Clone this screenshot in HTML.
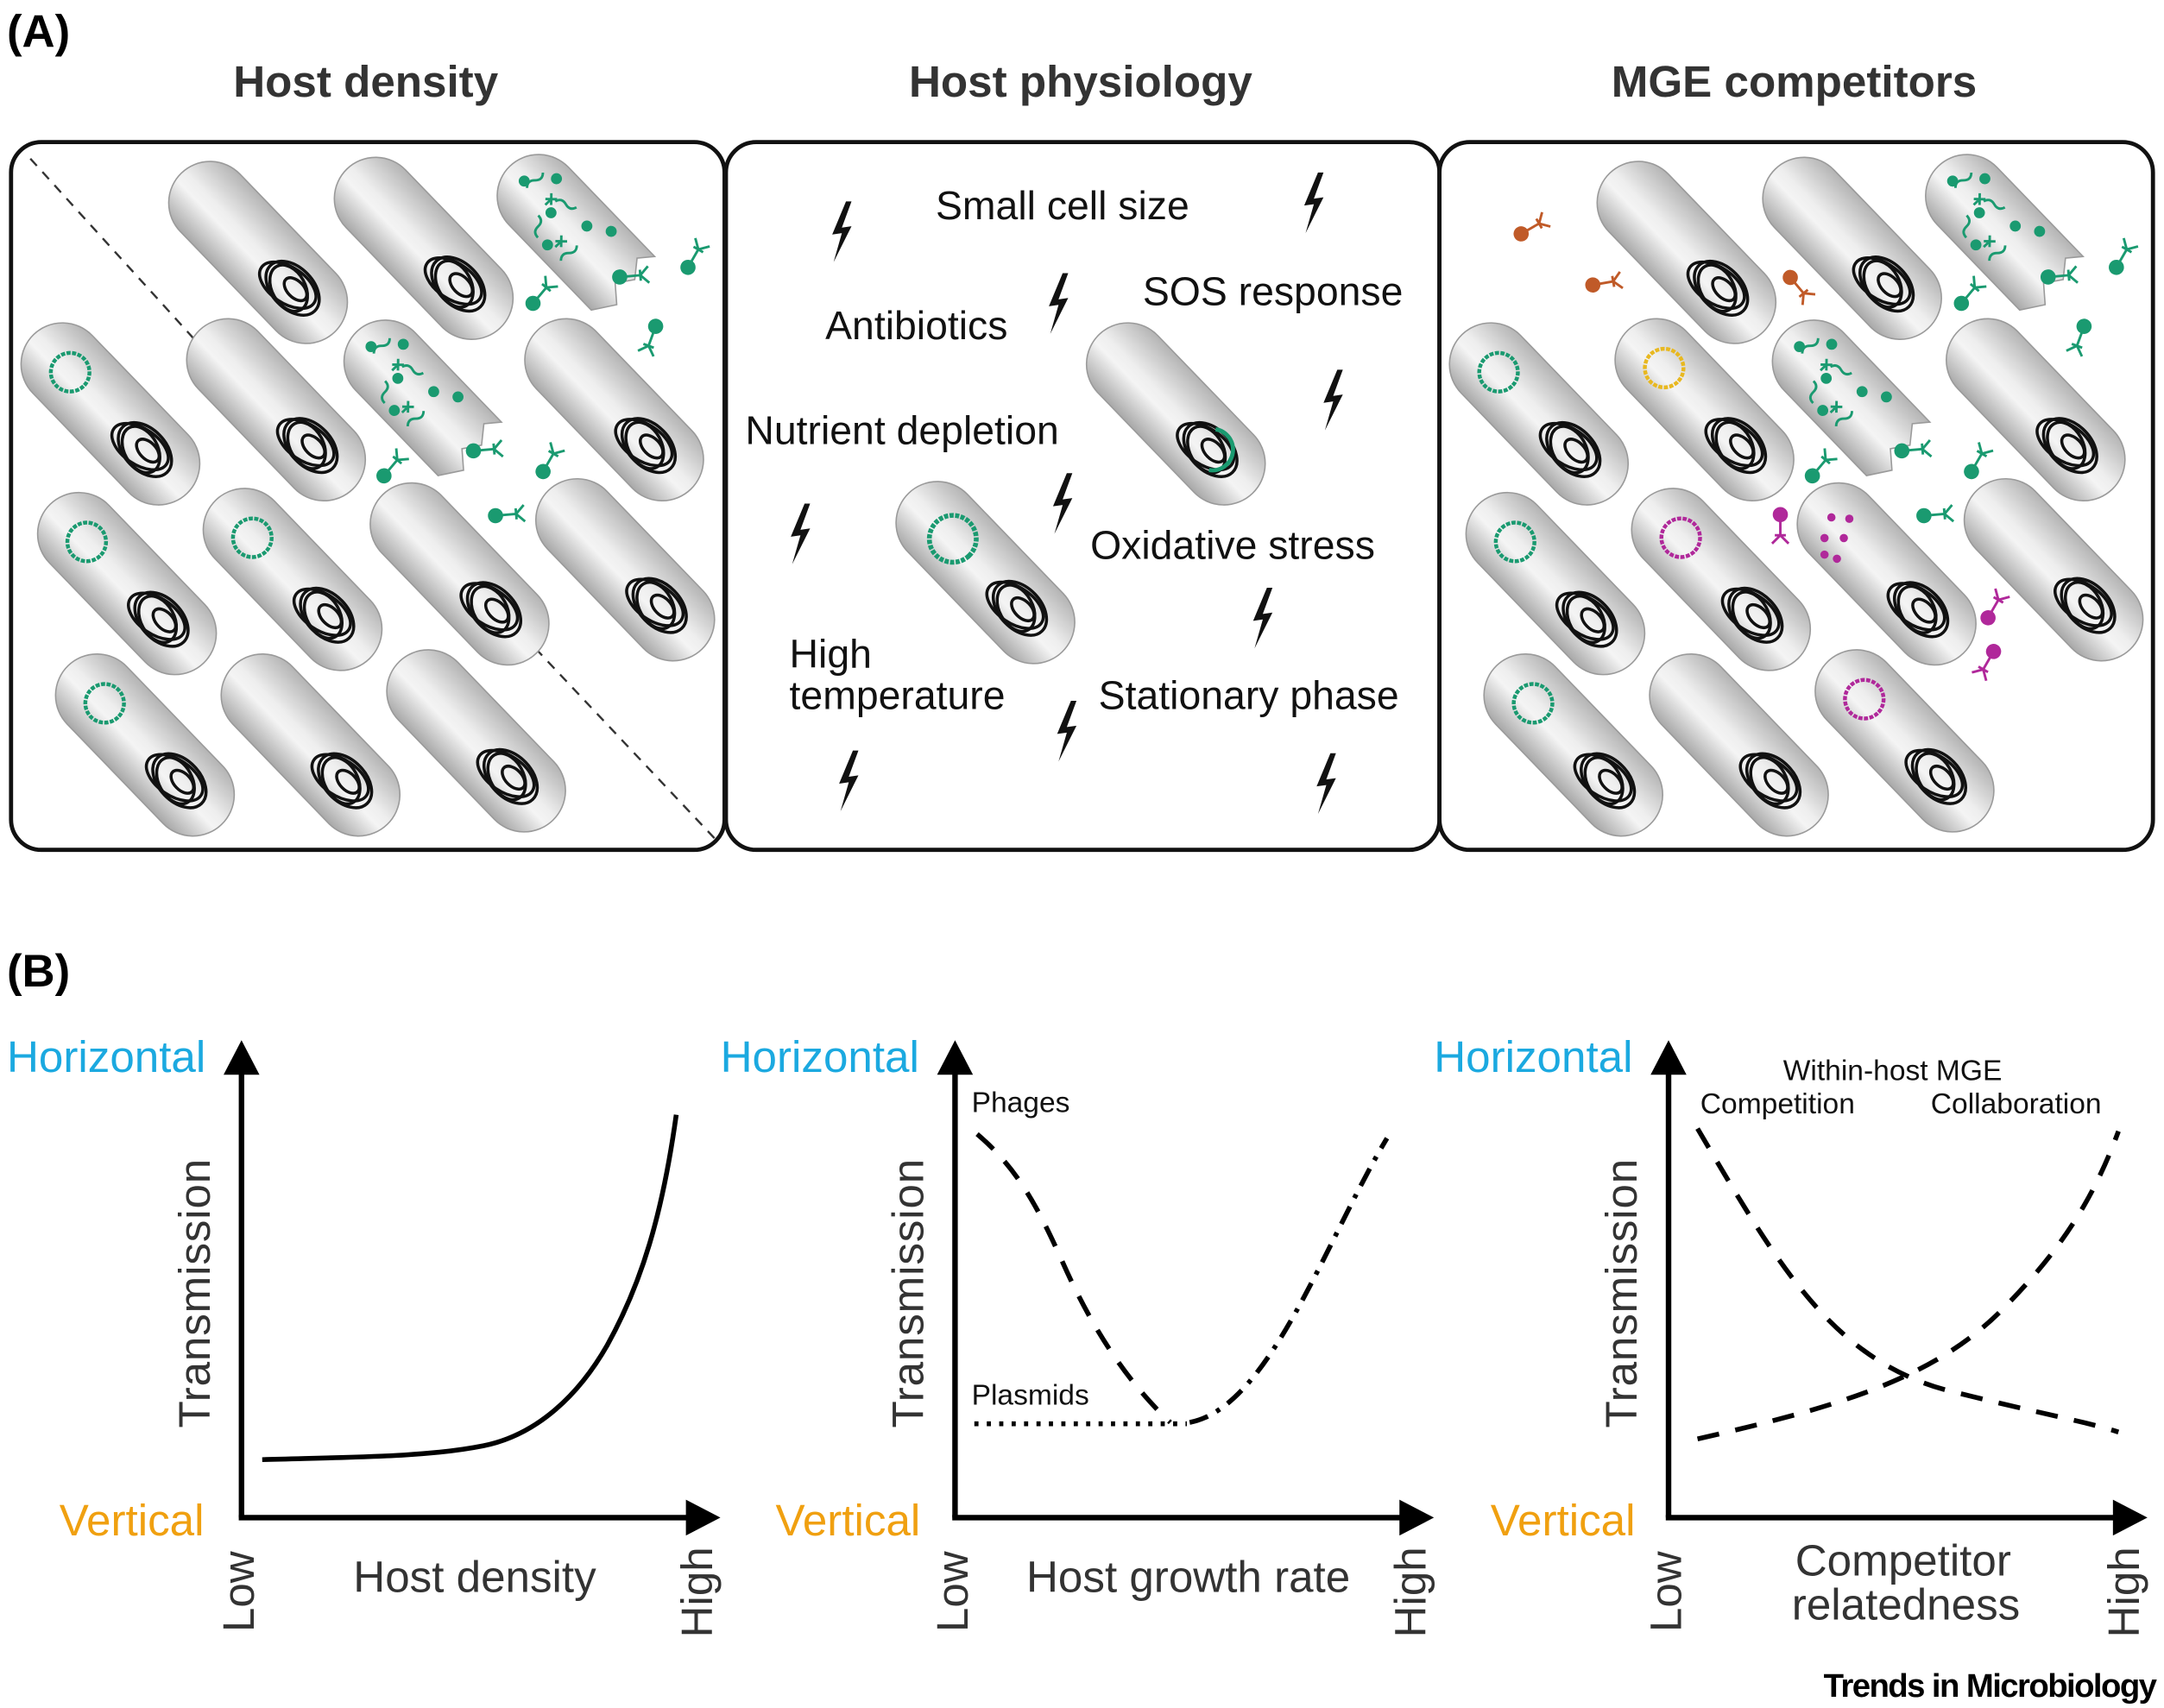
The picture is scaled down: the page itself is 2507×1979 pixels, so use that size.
<!DOCTYPE html>
<html><head><meta charset="utf-8"><style>html,body{margin:0;padding:0;background:#fff}svg{display:block}</style></head>
<body>
<svg width="2507" height="1979" viewBox="0 0 1568 1238" preserveAspectRatio="none" xmlns="http://www.w3.org/2000/svg" font-family="Liberation Sans, Arial, sans-serif">
<defs>
<linearGradient id="g" x1="0" y1="0" x2="0" y2="1">
<stop offset="0" stop-color="#b4b4b4"/><stop offset="0.45" stop-color="#eeeeee"/><stop offset="0.6" stop-color="#f4f4f4"/><stop offset="1" stop-color="#a8a8a8"/></linearGradient>
<g id="cap"><rect x="-80" y="-30" width="160" height="60" rx="30" fill="url(#g)" stroke="#9a9a9a" stroke-width="1"/></g>
<g id="chr" fill="none" stroke="#111" stroke-width="2.2">
<ellipse cx="36" cy="0" rx="23" ry="15"/><ellipse cx="34" cy="2" rx="18" ry="12" transform="rotate(15 34 2)"/><ellipse cx="38" cy="-1" rx="10" ry="6"/><ellipse cx="32" cy="1" rx="23" ry="13" transform="rotate(-12 32 1)"/></g>
<g id="cell"><use href="#cap"/><use href="#chr"/></g>
<g id="pl"><circle cx="-42" cy="0" r="14" fill="none" stroke-width="2.8" stroke-dasharray="3 1"/></g>
<g id="lys"><path d="M-50,-30 H40 L32,-20 L42,-8 L34,4 L46,14 L36,30 H-50 A30,30 0 0 1 -50,-30Z" fill="url(#g)" stroke="#9a9a9a"/>
<g fill="none" stroke-width="1.8"><path d="M-60,-14 q4,4 0,8 q-4,4 0,8"/><path d="M-40,10 q4,4 0,8 q-4,4 0,8" transform="rotate(-45 -40 10)"/><path d="M-25,-14 q4,4 0,8 q-4,4 0,8" transform="rotate(60 -25 -14)"/><path d="M-5,5 q4,4 0,8 q-4,4 0,8"/><path d="M-45,-8 l6,6 m-6,0 l6,-6 m-3,3 v6"/><path d="M-18,8 l6,6 m-6,0 l6,-6 m-3,3 v6"/></g>
<g stroke="none"><circle cx="-65" cy="0" r="4"/><circle cx="-50" cy="-18" r="4"/><circle cx="-35" cy="2" r="4"/><circle cx="-10" cy="-10" r="4"/><circle cx="-20" cy="20" r="4"/><circle cx="5" cy="-20" r="4"/></g></g>
<g id="ph"><circle cx="0" cy="-9" r="5"/><path d="M0,-4 V6 M-6,12 L0,6 L6,12 M-4,6 H4" stroke-width="1.8" fill="none"/></g>
<g id="bolt"><path d="M4,-22 L-6,2 L1,1 L-5,22 L8,-4 L1,-3 L8,-22Z" fill="#111"/></g>
</defs>

<text x="5" y="34" font-size="33" font-weight="bold">(A)</text>
<text x="265" y="70" font-size="32" font-weight="bold" fill="#333" text-anchor="middle">Host density</text>
<text x="783" y="70" font-size="32" font-weight="bold" fill="#333" text-anchor="middle">Host physiology</text>
<text x="1300" y="70" font-size="32" font-weight="bold" fill="#333" text-anchor="middle">MGE competitors</text>

<rect x="8" y="103" width="517" height="513" rx="22" fill="none" stroke="#111" stroke-width="3"/>
<rect x="526" y="103" width="517" height="513" rx="22" fill="none" stroke="#111" stroke-width="3"/>
<rect x="1043" y="103" width="517" height="513" rx="22" fill="none" stroke="#111" stroke-width="3"/>

<line x1="22" y1="115" x2="140" y2="245" stroke="#333" stroke-width="1.5" stroke-dasharray="7 6"/>
<line x1="388" y1="470" x2="520" y2="610" stroke="#333" stroke-width="1.5" stroke-dasharray="7 6"/>

<g stroke="#1a9a70" fill="#1a9a70">
<use href="#cell" transform="translate(187,183) rotate(46)"/>
<use href="#cell" transform="translate(307,180) rotate(46)"/>
<use href="#lys" transform="translate(425,178) rotate(46)"/>
<g transform="translate(80,300) rotate(46)"><use href="#cell"/><use href="#pl"/></g>
<use href="#cell" transform="translate(200,297) rotate(46)"/>
<use href="#lys" transform="translate(314,298) rotate(46)"/>
<use href="#cell" transform="translate(445,297) rotate(46)"/>
<g transform="translate(92,423) rotate(46)"><use href="#cell"/><use href="#pl"/></g>
<g transform="translate(212,420) rotate(46)"><use href="#cell"/><use href="#pl"/></g>
<use href="#cell" transform="translate(333,416) rotate(46)"/>
<use href="#cell" transform="translate(453,413) rotate(46)"/>
<g transform="translate(105,540) rotate(46)"><use href="#cell"/><use href="#pl"/></g>
<use href="#cell" transform="translate(225,540) rotate(46)"/>
<use href="#cell" transform="translate(345,537) rotate(46)"/>
<use href="#ph" transform="translate(392,213) rotate(-140)"/>
<use href="#ph" transform="translate(458,200) rotate(-95)"/>
<use href="#ph" transform="translate(503,186) rotate(-150)"/>
<use href="#ph" transform="translate(472,245) rotate(20)"/>
<use href="#ph" transform="translate(284,338) rotate(-140)"/>
<use href="#ph" transform="translate(352,326) rotate(-95)"/>
<use href="#ph" transform="translate(398,334) rotate(-150)"/>
<use href="#ph" transform="translate(368,373) rotate(-95)"/>

<use href="#cell" transform="translate(1222,183) rotate(46)"/>
<use href="#cell" transform="translate(1342,180) rotate(46)"/>
<use href="#lys" transform="translate(1460,178) rotate(46)"/>
<g transform="translate(1115,300) rotate(46)"><use href="#cell"/><use href="#pl"/></g>
<g transform="translate(1235,297) rotate(46)" stroke="#e8b820"><use href="#cell"/><use href="#pl"/></g>
<use href="#lys" transform="translate(1349,298) rotate(46)"/>
<use href="#cell" transform="translate(1475,297) rotate(46)"/>
<g transform="translate(1127,423) rotate(46)"><use href="#cell"/><use href="#pl"/></g>
<g transform="translate(1247,420) rotate(46)" stroke="#b0289a"><use href="#cell"/><use href="#pl"/></g>
<use href="#cell" transform="translate(1367,416) rotate(46)"/>
<g fill="#b0289a" stroke="none"><circle cx="1327" cy="375" r="3"/><circle cx="1322" cy="390" r="3"/><circle cx="1336" cy="390" r="3"/><circle cx="1322" cy="402" r="3"/><circle cx="1331" cy="405" r="3"/><circle cx="1340" cy="376" r="3"/></g>
<use href="#cell" transform="translate(1488,413) rotate(46)"/>
<g transform="translate(1140,540) rotate(46)"><use href="#cell"/><use href="#pl"/></g>
<use href="#cell" transform="translate(1260,540) rotate(46)"/>
<g transform="translate(1380,537) rotate(46)" stroke="#b0289a"><use href="#cell"/><use href="#pl"/></g>
<use href="#ph" transform="translate(1427,213) rotate(-140)"/>
<use href="#ph" transform="translate(1493,200) rotate(-95)"/>
<use href="#ph" transform="translate(1538,186) rotate(-150)"/>
<use href="#ph" transform="translate(1507,245) rotate(20)"/>
<use href="#ph" transform="translate(1319,338) rotate(-140)"/>
<use href="#ph" transform="translate(1387,326) rotate(-95)"/>
<use href="#ph" transform="translate(1433,334) rotate(-150)"/>
<use href="#ph" transform="translate(1403,373) rotate(-95)"/>
<g stroke="#c05a28" fill="#c05a28">
<use href="#ph" transform="translate(1110,165) rotate(-120)"/>
<use href="#ph" transform="translate(1163,205) rotate(-100)"/>
<use href="#ph" transform="translate(1303,208) rotate(-40)"/></g>
<g stroke="#b0289a" fill="#b0289a">
<use href="#ph" transform="translate(1290,382)"/>
<use href="#ph" transform="translate(1445,440) rotate(-150)"/>
<use href="#ph" transform="translate(1440,480) rotate(30)"/></g>
</g>

<g transform="translate(852,300) rotate(46)"><use href="#cell"/><path d="M28,-13 A15 15 0 0 1 46,11" stroke="#1a9a70" stroke-width="3" fill="none"/></g>
<g transform="translate(714,415) rotate(46)" stroke="#1a9a70"><use href="#cell"/><circle cx="-34" cy="0" r="17" fill="none" stroke-width="3.5" stroke-dasharray="3 1"/></g>
<g font-size="29" fill="#111">
<text x="678" y="159">Small cell size</text>
<text x="828" y="221">SOS response</text>
<text x="598" y="246">Antibiotics</text>
<text x="540" y="322">Nutrient depletion</text>
<text x="790" y="405">Oxidative stress</text>
<text x="572" y="484">High</text>
<text x="572" y="514">temperature</text>
<text x="796" y="514">Stationary phase</text>
</g>
<use href="#bolt" transform="translate(609,168)"/>
<use href="#bolt" transform="translate(951,147)"/>
<use href="#bolt" transform="translate(766,220)"/>
<use href="#bolt" transform="translate(965,290)"/>
<use href="#bolt" transform="translate(769,365)"/>
<use href="#bolt" transform="translate(579,387)"/>
<use href="#bolt" transform="translate(914,448)"/>
<use href="#bolt" transform="translate(772,530)"/>
<use href="#bolt" transform="translate(614,566)"/>
<use href="#bolt" transform="translate(960,568)"/>

<text x="5" y="715" font-size="33" font-weight="bold">(B)</text>
<g id="ax">
<line x1="175" y1="1100" x2="175" y2="775" stroke="#000" stroke-width="4"/>
<polygon points="175,754 162,779 188,779" fill="#000"/>
<line x1="173" y1="1100" x2="500" y2="1100" stroke="#000" stroke-width="4"/>
<polygon points="522,1100 497,1087 497,1113" fill="#000"/>
</g>
<use href="#ax" transform="translate(517,0)"/>
<use href="#ax" transform="translate(1034,0)"/>
<g font-size="32">
<text x="5" y="777" fill="#1ba9e0">Horizontal</text>
<text x="522" y="777" fill="#1ba9e0">Horizontal</text>
<text x="1039" y="777" fill="#1ba9e0">Horizontal</text>
<text x="43" y="1113" fill="#f0a010">Vertical</text>
<text x="562" y="1113" fill="#f0a010">Vertical</text>
<text x="1080" y="1113" fill="#f0a010">Vertical</text>
<g fill="#333">
<text transform="translate(152,1035) rotate(-90)" textLength="195">Transmission</text>
<text transform="translate(669,1035) rotate(-90)" textLength="195">Transmission</text>
<text transform="translate(1186,1035) rotate(-90)" textLength="195">Transmission</text>
<text transform="translate(184,1183) rotate(-90)">Low</text>
<text transform="translate(701,1183) rotate(-90)">Low</text>
<text transform="translate(1218,1183) rotate(-90)">Low</text>
<text transform="translate(516,1187) rotate(-90)">High</text>
<text transform="translate(1033,1187) rotate(-90)">High</text>
<text transform="translate(1550,1187) rotate(-90)">High</text>
<text x="344" y="1154" text-anchor="middle">Host density</text>
<text x="861" y="1154" text-anchor="middle">Host growth rate</text>
<text x="1379" y="1142" text-anchor="middle">Competitor</text>
<text x="1381" y="1174" text-anchor="middle">relatedness</text>
</g></g>
<g font-size="21" fill="#111">
<text x="704" y="806">Phages</text>
<text x="704" y="1018">Plasmids</text>
<text x="1292" y="783">Within-host MGE</text>
<text x="1232" y="807">Competition</text>
<text x="1399" y="807">Collaboration</text>
</g>
<path d="M190,1058 C260,1056 310,1056 350,1048 C390,1040 420,1010 440,975 C465,930 480,880 490,808" fill="none" stroke="#000" stroke-width="3.5"/>
<path d="M708,822 C735,845 750,870 770,915 C790,960 815,1000 848,1031" fill="none" stroke="#000" stroke-width="3.5" stroke-dasharray="16 12"/>
<path d="M862,1031 C920,1020 960,900 1005,825" fill="none" stroke="#000" stroke-width="3.5" stroke-dasharray="14 7 3 7"/>
<line x1="706" y1="1032" x2="860" y2="1032" stroke="#000" stroke-width="3.5" stroke-dasharray="3 6"/>
<path d="M1230,818 C1290,920 1330,990 1420,1010 C1480,1025 1510,1030 1535,1038" fill="none" stroke="#000" stroke-width="3.5" stroke-dasharray="16 12"/>
<path d="M1230,1043 C1330,1020 1400,1000 1450,950 C1500,900 1520,860 1535,820" fill="none" stroke="#000" stroke-width="3.5" stroke-dasharray="16 12"/>
<text x="1562" y="1230" font-size="24" font-weight="bold" text-anchor="end" letter-spacing="-1">Trends in Microbiology</text>
</svg>
</body></html>
